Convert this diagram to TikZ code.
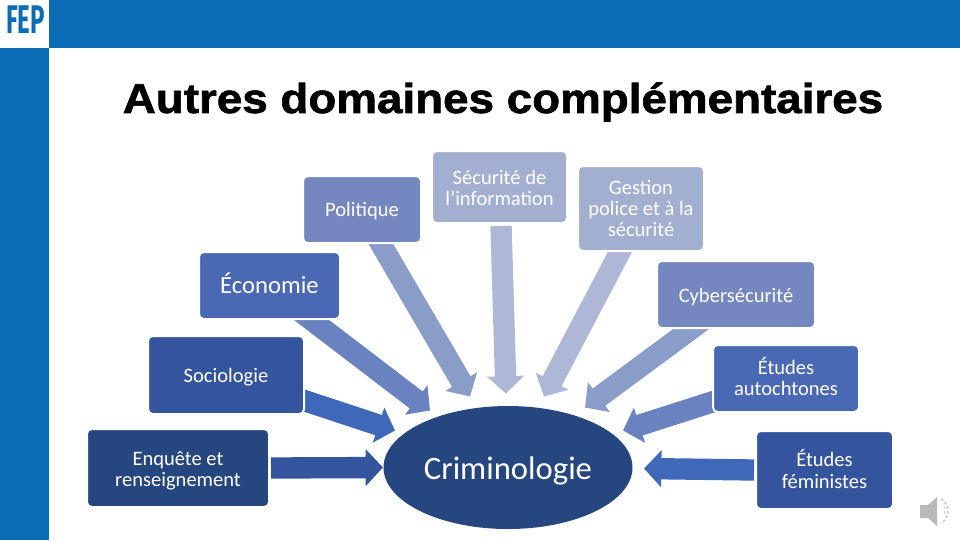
\documentclass[tikz,border=0pt]{standalone}
\usepackage{fontspec}
\setmainfont{Carlito}
\newfontfamily\titlefont[FakeBold=1.6,FakeStretch=1.1]{Liberation Sans}
\newfontfamily\logofont[FakeStretch=0.72]{Fira Sans}
\usetikzlibrary{arrows.meta,calc,shapes.geometric,backgrounds}
\definecolor{bandblue}{HTML}{0A6CB4}
\definecolor{cA}{HTML}{26467F}
\definecolor{cB}{HTML}{34559E}
\definecolor{cC}{HTML}{4A69B5}
\definecolor{cD}{HTML}{7587BF}
\definecolor{cE}{HTML}{A3AFD0}
\definecolor{aB}{HTML}{3F68B9}
\definecolor{aC}{HTML}{6A83C0}
\definecolor{aD}{HTML}{8A9CC8}
\definecolor{aE}{HTML}{AEB8D6}
\newcommand{\dropdepth}[1]{\rule[-#1]{0pt}{0pt}}
\newcommand{\tallline}[1]{\rule{0pt}{#1}}
\tikzset{
  fbox/.style 2 args={draw=white,line width=1.5pt,rounded corners=3.5pt,text=white,align=center,inner sep=0pt,outer sep=0pt,
    minimum width=#1*0.75pt+1.5pt,minimum height=#2*0.75pt+1.5pt},
  lab/.style={font=\fontsize{15.4}{15.9}\selectfont},
  low/.style={execute at begin node={\rule{0pt}{#1}}},
  bigarrow/.style={line width=16pt,draw=#1,-{Triangle[length=13pt,width=27pt,color=#1]}},
}
\begin{document}
\begin{tikzpicture}[x=0.75pt,y=-0.75pt]
\useasboundingbox (0,0) rectangle (960,540);
\begin{scope}[on background layer]
\fill[white] (0,0) rectangle (960,540);
\end{scope}
\fill[bandblue] (49,0) rectangle (960,48);
\fill[bandblue] (0,48) rectangle (49,540);
\node[text=bandblue,inner sep=0pt,yscale=1.2,transform shape,font=\logofont\bfseries\fontsize{25}{25}\selectfont] (logo) at (25.5,19.5) {FEP};
\node[inner sep=0pt,text=black,font=\titlefont\bfseries\fontsize{31.2}{35}\selectfont] (title) at (503,102) {Autres domaines complémentaires};
% boxes
\node[fbox={116}{65},fill=cD,lab,low=13.5pt] (pol) at (362,209.5) {Politique};
\node[fbox={139}{65},fill=cC,font=\fontsize{18.5}{20}\selectfont] (eco) at (269.5,285.5) {Économie\dropdepth{3pt}};
\node[fbox={154}{76},fill=cB,lab,low=14pt] (soc) at (226,375) {Sociologie};
\node[fbox={180}{76},fill=cA,lab] (enq) at (178,468) {\tallline{14.5pt}Enquête et\\renseignement};
\node[fbox={133}{70},fill=cE,lab] (sec) at (499.5,187) {\tallline{12.5pt}Sécurité de\\l’information};
\node[fbox={124}{83},fill=cE,lab] (ges) at (641,208.5) {Gestion\\police et à la\\sécurité};
\node[fbox={156}{65},fill=cD,lab,low=14pt] (cyb) at (736,294.5) {Cybersécurité};
\node[fbox={144}{65},fill=cC,lab] (aut) at (786,378.5) {Études\\autochtones\dropdepth{3pt}};
\node[fbox={135}{76},fill=cB,lab] (fem) at (824.5,470) {Études\\féministes\dropdepth{1.5pt}};
\node[ellipse,fill=cA,text=white,inner sep=0pt,outer sep=0pt,minimum width=249*0.75pt,minimum height=123*0.75pt,
  font=\fontsize{24.5}{28}\selectfont,low=22pt] (crim) at (508,467.5) {Criminologie};
% arrows, behind the boxes
\begin{scope}[on background layer]
\draw[bigarrow=aD] ($(pol.south)+(6,-21)$) -- ($(crim.center)+(-38,-71)$);
\draw[bigarrow=aC] ($(eco.south)+(18.5,-17)$) -- ($(crim.center)+(-78,-57)$);
\draw[bigarrow=aB] ($(soc.east)+(-7.5,23)$) -- ($(crim.center)+(-113,-37)$);
\draw[bigarrow=cB] ($(enq.east)+(2,0)$) -- ($(crim.center)+(-125,0)$);
\draw[bigarrow=aE] ($(sec.south)+(1.5,3)$) -- ($(crim.center)+(-2,-74)$);
\draw[bigarrow=aE] ($(ges.south)+(-14,-12.5)$) -- ($(crim.center)+(36,-71)$);
\draw[bigarrow=aD] ($(cyb.south)+(-30,-10)$) -- ($(crim.center)+(77,-60)$);
\draw[bigarrow=aC] ($(aut.west)+(8.5,20.5)$) -- ($(crim.center)+(115,-37)$);
\draw[bigarrow=aB] ($(fem.west)+(-2,0)$) -- ($(crim.center)+(136,1)$);
\end{scope}
% speaker
\fill[gray!55] (920,505) -- (928,505) -- (937,497) -- (937,526) -- (928,518) -- (920,518) -- cycle;
\draw[gray!45,line width=1.2pt,dash pattern=on 2pt off 1.6pt] (941,499) arc (-60:60:14);
\draw[gray!35,line width=1pt,dash pattern=on 2pt off 2pt] (944,506) arc (-25:25:11);
\end{tikzpicture}
\end{document}
